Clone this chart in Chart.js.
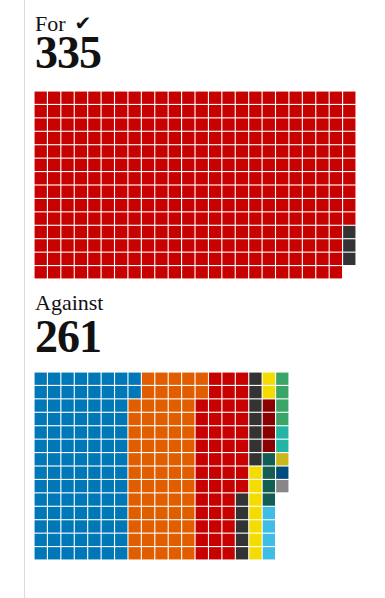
<!DOCTYPE html>
<html>
<head>
<meta charset="utf-8">
<script src="https://cdn.jsdelivr.net/npm/chart.js@4/dist/chart.umd.min.js"></script>
<style>
  html, body { margin: 0; padding: 0; background: #fff; }
  body { width: 385px; height: 598px; position: relative; overflow: hidden; }
  .rule { position: absolute; left: 24px; top: 0; width: 1px; height: 598px; background: #dcdcdc; }
  .label { position: absolute; left: 35px; font-family: "Liberation Serif", serif; font-size: 22px; line-height: 22px; color: #121212; white-space: nowrap; }
  .total { position: absolute; left: 35px; font-family: "Liberation Serif", serif; font-weight: bold; font-size: 46px; line-height: 46px; color: #121212; letter-spacing: -1px; }
  .tick { font-family: "DejaVu Sans", sans-serif; font-size: 20px; margin-left: 9px; position: relative; top: -1px; }
  .box { position: absolute; left: 34px; }
</style>
</head>
<body>
<div class="rule"></div>

<div class="label" style="top:13px">For<span class="tick">✔</span></div>
<div class="total" style="top:30px" id="forTotal"></div>
<div class="box" style="top:91px; width:322px; height:188px"><canvas id="forChart"></canvas></div>

<div class="label" style="top:292px">Against</div>
<div class="total" style="top:314px" id="againstTotal"></div>
<div class="box" style="top:372px; width:255px; height:188px"><canvas id="againstChart"></canvas></div>

<script>
// seats per group, in the order they fill the grid (column by column, top to bottom)
const forParties = ['Labour', 'Independent'];
const forSeats = [332, 3];
const forColors = ['#c70000', '#333333'];

const againstParties = ['Conservative', 'Liberal Democrat', 'Labour', 'Independent', 'SNP', 'DUP',
  'Plaid Cymru', 'Reform UK', 'Green', 'Alliance', 'UUP', 'TUV', 'Other'];
const againstSeats = [100, 70, 49, 12, 9, 4, 4, 4, 4, 2, 1, 1, 1];
const againstColors = ['#0077b6', '#e05e00', '#c70000', '#333333', '#f5dc00', '#8b0000',
  '#135e52', '#3fbde6', '#39a566', '#22b5a5', '#c9b81c', '#004b80', '#878787'];

const ROWS = 14;

function buildDatasets(parties, seats, colors) {
  let idx = 0;
  return parties.map((name, i) => {
    const pts = [];
    for (let k = 0; k < seats[i]; k++) {
      pts.push({ x: Math.floor(idx / ROWS), y: idx % ROWS });
      idx++;
    }
    return {
      label: name,
      data: pts,
      backgroundColor: colors[i],
      borderWidth: 0,
      pointStyle: 'rect',
      pointRadius: 8.7,
      pointHoverRadius: 8.7,
      clip: false
    };
  });
}

function waffle(id, parties, seats, colors, cols) {
  const ctx = document.getElementById(id).getContext('2d');
  return new Chart(ctx, {
    type: 'scatter',
    data: { datasets: buildDatasets(parties, seats, colors) },
    options: {
      responsive: true,
      maintainAspectRatio: false,
      animation: false,
      events: [],
      layout: { padding: 0, autoPadding: false },
      plugins: { legend: { display: false }, tooltip: { enabled: false } },
      scales: {
        x: { type: 'linear', min: -0.5, max: cols - 0.5, display: false },
        y: { type: 'linear', min: -0.5, max: ROWS - 0.5, reverse: true, display: false }
      }
    }
  });
}

const sum = arr => arr.reduce((a, b) => a + b, 0);
document.getElementById('forTotal').textContent = sum(forSeats);
document.getElementById('againstTotal').textContent = sum(againstSeats);

waffle('forChart', forParties, forSeats, forColors, Math.ceil(sum(forSeats) / ROWS));
waffle('againstChart', againstParties, againstSeats, againstColors, Math.ceil(sum(againstSeats) / ROWS));
</script>
</body>
</html>
